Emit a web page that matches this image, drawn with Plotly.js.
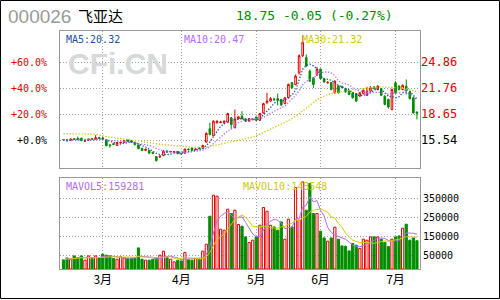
<!DOCTYPE html>
<html><head><meta charset="utf-8">
<script src="https://cdn.plot.ly/plotly-3.0.1.min.js"></script>
<style>html,body{margin:0;padding:0;background:#fff}#chart{width:500px;height:300px}</style>
</head><body><div id="chart"></div><script>
// ---- data (one entry per trading day) ----
const openP = [15.60,15.58,15.50,15.70,15.72,15.75,15.40,15.52,15.70,15.66,
15.82,15.80,15.58,14.95,15.10,14.88,15.18,15.25,15.55,15.45,
15.25,14.95,14.55,14.30,14.30,14.05,13.55,13.50,13.68,14.20,
14.10,14.00,14.15,13.95,13.95,14.42,14.60,14.38,14.55,14.55,
15.30,16.90,16.05,17.60,17.64,17.60,17.67,18.20,17.00,18.08,
18.40,18.08,17.80,17.98,18.30,17.90,18.80,20.00,20.20,20.45,
20.50,20.40,19.90,20.60,22.40,22.20,23.60,25.65,25.40,23.80,
23.00,23.35,24.04,22.90,22.40,22.43,21.20,22.00,21.92,21.70,
21.40,21.20,21.10,20.80,21.10,20.90,21.40,21.90,21.60,21.70,
20.80,20.40,19.20,22.40,22.00,21.60,22.00,21.30,20.60,18.90];
const highP = [15.65,15.62,15.72,15.75,15.95,15.80,15.55,15.68,15.75,16.12,
15.90,15.88,15.62,15.05,15.20,15.30,15.35,15.50,15.60,15.50,
15.30,15.00,14.60,14.50,14.35,14.15,13.60,13.70,14.30,14.35,
14.25,14.22,14.20,14.00,14.50,14.55,14.65,14.55,14.70,14.95,
16.45,17.60,17.90,17.90,17.85,17.90,18.80,18.30,19.20,18.45,
19.00,18.15,18.15,18.10,18.35,18.80,20.00,21.20,20.70,20.60,
21.10,20.45,20.70,22.30,22.50,23.40,25.80,28.07,25.80,24.00,
23.10,24.30,24.10,23.00,22.60,22.50,22.70,22.10,22.05,21.80,
21.50,21.25,21.15,21.30,21.60,21.90,22.00,22.00,22.10,21.80,
20.90,20.50,21.70,22.60,22.10,22.20,22.80,21.40,20.70,18.95];
const lowP = [15.50,15.30,15.45,15.55,15.50,15.40,15.30,15.45,15.55,15.62,
15.68,15.55,14.80,14.60,14.95,14.82,15.10,15.20,15.30,15.25,
14.90,14.45,14.20,14.25,13.85,13.85,12.95,13.40,13.60,14.00,
14.05,13.95,13.85,13.80,13.90,14.30,14.25,14.35,14.45,14.50,
15.20,16.10,16.00,17.50,17.55,17.50,17.60,16.80,16.95,18.00,
18.00,17.70,17.75,17.90,17.85,17.85,18.70,19.90,20.10,20.20,
19.70,19.60,19.85,20.50,21.70,22.10,23.40,25.50,24.30,22.50,
21.80,23.20,22.80,22.40,22.30,21.50,21.10,21.10,21.75,21.20,
20.90,20.50,20.10,20.70,21.00,20.80,21.30,21.60,21.50,20.80,
19.70,19.30,19.10,21.10,21.50,21.50,21.00,20.40,18.70,18.00];
const closeP = [15.56,15.52,15.66,15.60,15.66,15.47,15.46,15.64,15.62,15.80,
15.76,15.60,14.85,14.88,15.02,15.25,15.24,15.45,15.36,15.30,
14.98,14.50,14.28,14.45,13.98,13.95,13.08,13.60,14.20,14.10,
14.16,14.15,13.90,13.88,14.45,14.38,14.30,14.45,14.50,14.90,
16.35,16.20,17.80,17.80,17.70,17.80,18.72,17.40,18.08,18.32,
18.10,17.80,18.08,18.03,17.90,18.72,19.90,20.20,20.50,20.38,
20.30,19.75,20.60,22.20,21.80,23.20,25.65,27.27,24.40,22.60,
22.20,24.04,22.90,22.50,22.46,21.60,22.60,21.20,21.86,21.30,
21.00,20.60,20.20,21.20,21.50,21.40,21.80,21.70,22.00,20.90,
19.80,19.50,21.60,21.20,21.60,22.10,21.70,20.50,18.80,18.75];
const volume = [25000,34700,27900,45300,34700,45300,22600,45300,31600,45300,
34700,54200,49000,45300,31600,27900,40000,34700,31600,31600,
34700,87400,27900,22600,22600,27900,34700,49000,70000,36000,
27900,13700,22600,19000,63200,25000,22600,31600,27900,70000,
106800,254000,364700,359500,185800,180500,291000,268000,285800,210500,
201600,145300,115800,127900,145300,206800,300000,280500,206800,198000,
180500,224200,133200,238400,198000,405000,233200,434700,285800,426300,
268400,268400,175300,140000,122600,140000,196300,133200,98000,96300,
71600,110500,101600,84200,133200,127900,145300,145300,145300,133200,
115800,95000,133200,145300,150500,191000,212000,128000,140000,125000];
const ma30 = [16.30,16.30,16.30,16.30,16.30,16.28,16.28,16.27,16.25,16.20,
16.15,16.05,15.95,15.90,15.82,15.75,15.70,15.65,15.60,15.58,
15.50,15.42,15.35,15.28,15.22,15.15,15.08,15.02,14.97,14.95,
14.90,14.85,14.80,14.77,14.73,14.70,14.67,14.65,14.65,14.66,
14.70,14.76,14.85,14.95,15.05,15.15,15.25,15.35,15.45,15.55,
15.62,15.70,15.78,15.90,16.05,16.25,16.40,16.58,16.80,17.00,
17.20,17.45,17.65,17.85,18.10,18.35,18.70,19.05,19.40,19.75,
20.05,20.35,20.60,20.85,21.00,21.12,21.20,21.30,21.38,21.45,
21.50,21.55,21.60,21.65,21.72,21.80,21.85,21.90,21.92,21.92,
21.90,21.88,21.88,21.85,21.82,21.75,21.68,21.55,21.42,21.32];
const monthTickIdx = [11, 33, 54, 72, 93];
const monthLabels = ['3月','4月','5月','6月','7月'];
const priceTicks = [15.54, 18.65, 21.76, 24.86];
const pctLabels = ['+0.0%','+20.0%','+40.0%','+60.0%'];
const volTicks = [50000, 150000, 250000, 350000];
const stockCode = '000026';
const stockName = '飞亚达';
const quoteText = '18.75 -0.05 (-0.27%)';
const maTexts = ['MA5:20.32', 'MA10:20.47', 'MA30:21.32'];
const volMaTexts = ['MAVOL5:159281', 'MAVOL10:143548'];

// ---- styling / layout ----
const RED = '#e00000', GREEN = '#008c00', BLUE = '#1c4fa0', PURPLE = '#b36bff', YELLOW = '#cccc00';
const GRID = '#a0a0a0', FRAME = '#999999';
const MONO = 'DejaVu Sans Mono';
const volFloor = -23700, volTop = 453700;
const priceRange = [12.22, 28.61];
const xRange = [-0.98, 99.86];

const idx = closeP.map((_, i) => i);
function movingAvg(arr, n) {
  return arr.map((_, i) => {
    const w = arr.slice(Math.max(0, i - n + 1), i + 1);
    return w.reduce((a, b) => a + b, 0) / w.length;
  });
}
const ma5 = movingAvg(closeP, 5), ma10 = movingAvg(closeP, 10);
const vma5 = movingAvg(volume, 5), vma10 = movingAvg(volume, 10);
const up = closeP.map((c, i) => c >= openP[i]);

const traces = [
  {type: 'candlestick', x: idx, open: openP, high: highP, low: lowP, close: closeP,
   xaxis: 'x', yaxis: 'y', whiskerwidth: 0, hoverinfo: 'skip',
   increasing: {line: {color: RED, width: 1}, fillcolor: '#ffffff'},
   decreasing: {line: {color: GREEN, width: 1}, fillcolor: GREEN}},
  {type: 'scatter', mode: 'lines', x: idx, y: ma5, xaxis: 'x', yaxis: 'y',
   line: {color: BLUE, width: 1.3, dash: '1.3px,1.7px'}, hoverinfo: 'skip'},
  {type: 'scatter', mode: 'lines', x: idx, y: ma10, xaxis: 'x', yaxis: 'y',
   line: {color: PURPLE, width: 1.3, dash: '1.3px,1.7px'}, hoverinfo: 'skip'},
  {type: 'scatter', mode: 'lines', x: idx, y: ma30, xaxis: 'x', yaxis: 'y',
   line: {color: YELLOW, width: 1.3, dash: '1.3px,1.7px'}, hoverinfo: 'skip'},
  {type: 'bar', x: idx, y: volume.map(v => v - volFloor), base: volFloor, width: 0.62,
   xaxis: 'x2', yaxis: 'y2', hoverinfo: 'skip',
   marker: {color: up.map(u => u ? '#ffffff' : GREEN),
            line: {color: up.map(u => u ? RED : GREEN), width: 1}}},
  {type: 'scatter', mode: 'lines', x: idx, y: vma5, xaxis: 'x2', yaxis: 'y2',
   line: {color: PURPLE, width: 1}, hoverinfo: 'skip'},
  {type: 'scatter', mode: 'lines', x: idx, y: vma10, xaxis: 'x2', yaxis: 'y2',
   line: {color: YELLOW, width: 1}, hoverinfo: 'skip'}
];

const L = 60, R = 420, T = 31, B = 269;
const px = x => (x - L) / (R - L);
const py = y => (B - y) / (B - T);
function ann(text, x, y, font, xanchor) {
  return {text, xref: 'paper', yref: 'paper', x: px(x), y: py(y), xanchor: xanchor || 'left',
          yanchor: 'middle', showarrow: false, font, borderpad: 0};
}
const monoFont = (c, s) => ({family: MONO, size: s || 10, color: c});

const annotations = [
  ann('<b>CFi.CN</b>', 118, 64, {family: 'Liberation Sans', size: 30, color: '#d8d8d8'}, 'center'),
  ann(stockCode, 7, 17, {family: 'Liberation Sans', size: 19, color: '#9a9a9a'}),
  ann(stockName, 77, 15, {family: 'Noto Sans CJK SC', size: 15, color: '#000'}),
  ann(quoteText, 235, 15, monoFont(GREEN, 13)),
  ann(maTexts[0], 65, 39.5, monoFont(BLUE)),
  ann(maTexts[1], 183, 39.5, monoFont(PURPLE)),
  ann(maTexts[2], 301, 39.5, monoFont(YELLOW)),
  ann(volMaTexts[0], 65, 186, monoFont(PURPLE)),
  ann(volMaTexts[1], 242, 186, monoFont(YELLOW))
];

const axisCommon = {showline: true, mirror: true, linecolor: FRAME, linewidth: 1, zeroline: false,
  showgrid: true, gridcolor: GRID, griddash: '1px,2px', gridwidth: 1, ticks: '', fixedrange: true};

const layout = {
  width: 500, height: 300, margin: {l: L, r: 500 - R, t: T, b: 300 - B},
  paper_bgcolor: '#fff', plot_bgcolor: '#fff', showlegend: false, boxgap: 0.35,
  font: {family: MONO, size: 10, color: '#000'},
  xaxis: Object.assign({}, axisCommon, {domain: [0, 1], range: xRange, anchor: 'y',
    tickvals: monthTickIdx, showticklabels: false, rangeslider: {visible: false}}),
  xaxis2: Object.assign({}, axisCommon, {domain: [0, 1], range: xRange, anchor: 'y2',
    tickvals: monthTickIdx, ticktext: monthLabels,
    tickfont: {family: 'Noto Sans CJK SC', size: 12, color: '#000'}}),
  yaxis: Object.assign({}, axisCommon, {domain: [py(167.7), 1], range: priceRange, anchor: 'x',
    tickvals: priceTicks,
    ticktext: pctLabels.map((t, i) => i === 0 ? '<span style="color:#000">' + t + '</span>' : t),
    tickfont: monoFont(RED), side: 'left', ticklabelstandoff: 10}),
  yaxis3: {overlaying: 'y', side: 'right', range: priceRange, anchor: 'x', showgrid: false,
    zeroline: false, showline: false, ticks: '', tickvals: priceTicks, fixedrange: true,
    ticktext: priceTicks.map((v, i) => i === 0 ? '<span style="color:#000">' + v.toFixed(2) + '</span>' : v.toFixed(2)),
    tickfont: monoFont(RED, 12)},
  yaxis2: Object.assign({}, axisCommon, {domain: [0, py(178.3)], range: [volFloor, volTop], anchor: 'x2',
    side: 'right', tickvals: volTicks, ticktext: volTicks.map(String), tickfont: monoFont('#000', 10)}),
  annotations,
  shapes: [{type: 'rect', xref: 'paper', yref: 'paper', x0: px(0.5), x1: px(499.5), y0: py(298.5), y1: py(0.5),
            line: {color: '#000', width: 1}, fillcolor: 'rgba(0,0,0,0)', layer: 'above'}]
};
// dummy trace so yaxis3 is drawn
traces.push({type: 'scatter', mode: 'lines', x: [idx[0]], y: [closeP[0]], xaxis: 'x', yaxis: 'y3',
  line: {width: 0}, hoverinfo: 'skip', showlegend: false});

Plotly.newPlot('chart', traces, layout, {staticPlot: true, displayModeBar: false});
</script></body></html>
